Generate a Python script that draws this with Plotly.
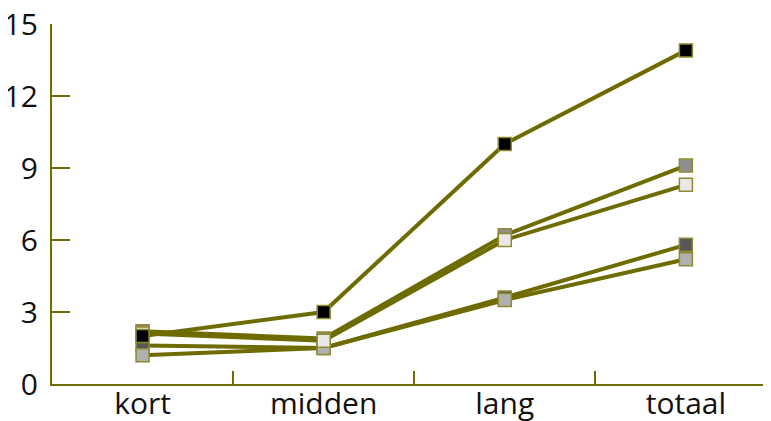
import plotly.graph_objects as go

categories = ["kort", "midden", "lang", "totaal"]
series_medium = [2.2, 1.9, 6.2, 9.1]
series_dark = [1.6, 1.5, 3.6, 5.8]
series_light = [1.2, 1.5, 3.5, 5.2]
series_verylight = [2.1, 1.8, 6.0, 8.3]
series_black = [2.0, 3.0, 10.0, 13.9]

olive = "#6e6b00"
fig = go.Figure()
for vals, col in [(series_medium, "#8e8e8e"), (series_dark, "#575757"),
                  (series_light, "#b0b0b0"), (series_verylight, "#e8e8e8"),
                  (series_black, "#000000")]:
    fig.add_trace(go.Scatter(
        x=categories, y=vals, mode="lines+markers",
        line=dict(color=olive, width=4),
        marker=dict(symbol="square", size=13, color=col,
                    line=dict(color="#8f8a30", width=1.5)),
        showlegend=False, cliponaxis=False))

fig.update_layout(
    width=771, height=421,
    margin=dict(l=44, r=8, t=16, b=45),
    plot_bgcolor="white", paper_bgcolor="white",
    font=dict(family="Open Sans", size=30, color="#111111"),
)
fig.update_xaxes(type="category", range=[-0.5, 3.47], automargin=False,
                 showline=True, linecolor=olive, linewidth=2,
                 ticks="inside", tickson="boundaries", ticklen=13,
                 tickwidth=2, tickcolor=olive, showgrid=False, zeroline=False,
                 ticklabelstandoff=-8, ticklabeloverflow="allow")
fig.update_yaxes(range=[0, 15], tickvals=[0, 3, 6, 9, 12, 15], automargin=False,
                 showline=True, linecolor=olive, linewidth=2,
                 ticks="inside", ticklen=18, tickwidth=2, tickcolor=olive,
                 showgrid=False, zeroline=False, ticklabelstandoff=6,
                 ticklabeloverflow="allow")
fig.write_html("out.html")
